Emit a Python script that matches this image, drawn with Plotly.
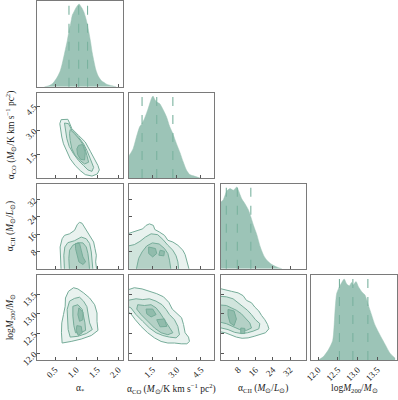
import plotly.graph_objects as go

# ---------------- data ----------------
# 1D marginal densities (relative)
astar_grid = [0.25,0.35,0.45,0.55,0.62,0.67,0.72,0.79,0.83,0.87,0.91,0.95,0.99,1.03,1.07,1.10,1.14,1.18,1.22,1.26,1.30,1.34,1.38,1.42,1.46,1.50,1.54,1.60,1.66,1.72,1.78,1.85,1.95]
astar_dens = [0.00,0.01,0.04,0.11,0.18,0.27,0.38,0.54,0.65,0.74,0.84,0.88,0.92,0.95,0.97,0.95,0.92,0.88,0.82,0.74,0.64,0.53,0.40,0.30,0.21,0.15,0.11,0.07,0.05,0.03,0.02,0.01,0.00]

aco_grid = [0.04,0.29,0.50,0.70,0.85,1.01,1.22,1.43,1.53,1.64,1.76,1.95,2.16,2.36,2.57,2.76,2.99,3.20,3.40,3.61,3.81,4.12,4.44]
aco_dens = [0.26,0.34,0.48,0.60,0.64,0.70,0.81,0.93,0.96,0.92,0.89,0.87,0.80,0.72,0.60,0.52,0.40,0.30,0.19,0.09,0.04,0.02,0.00]

acii_grid = [-0.1,1.12,2.68,4.23,5.77,7.33,8.1,9.65,11.2,12.75,13.84,15.08,16.63,18.18,19.73,21.28,23.6,25.93,28.26]
acii_dens = [0.78,0.81,0.91,0.94,0.92,0.96,0.92,0.82,0.76,0.69,0.61,0.51,0.40,0.26,0.16,0.10,0.05,0.02,0.00]

logm_grid = [12.01,12.135,12.26,12.37,12.43,12.47,12.54,12.60,12.66,12.725,12.79,12.85,12.89,12.96,13.02,13.105,13.19,13.26,13.36,13.44,13.57,13.70,13.82,13.95]
logm_dens = [0.00,0.04,0.12,0.23,0.59,0.78,0.86,0.91,0.95,0.89,0.87,0.91,0.88,0.92,0.86,0.80,0.76,0.66,0.52,0.41,0.29,0.18,0.08,0.02]

# 16th / 50th / 84th percentiles
q_astar = [0.83, 1.06, 1.27]
q_aco = [0.85, 1.76, 2.76]
q_acii = [2.5, 7.6, 13.85]
q_logm = [12.54, 12.88, 13.26]

# 2D credible-region outlines (x, y) per panel, outer -> inner
# alpha_CO vs alpha_*
outer21 = [(0.644,3.66),(0.803,3.68),(0.843,3.45),(0.898,3.10),(1.057,2.68),(1.216,2.27),(1.335,1.70),(1.414,1.29),(1.517,0.81),(1.549,0.54),(1.501,0.29),(1.375,0.16),(1.216,0.25),(1.097,0.50),(0.978,0.81),(0.859,1.23),(0.779,1.75),(0.700,2.16),(0.660,2.58),(0.628,3.0),(0.613,3.41)]
mid21 = [(0.724,3.45),(0.819,3.41),(0.898,3.0),(1.057,2.58),(1.176,2.16),(1.255,1.75),(1.335,1.23),(1.414,0.70),(1.375,0.45),(1.279,0.54),(1.176,0.81),(1.057,1.12),(0.938,1.54),(0.835,2.0),(0.779,2.48),(0.740,3.0)]
in21 = [(0.859,3.04),(0.962,2.79),(1.097,2.37),(1.2,1.95),(1.255,1.43),(1.295,1.02),(1.2,0.91),(1.097,1.12),(0.978,1.43),(0.898,1.85),(0.859,2.37),(0.843,2.79)]
core21 = [(1.057,2.06),(1.152,2.12),(1.216,1.64),(1.2,1.16),(1.104,1.20),(1.033,1.50),(1.017,1.85)]

# alpha_CII vs alpha_*
outer31 = [(0.644,-1),(0.628,6.2),(0.620,10.0),(0.668,13.8),(0.724,15.4),(0.843,16.1),(0.962,17.7),(1.03,20.5),(1.08,21.4),(1.14,21.0),(1.22,18.5),(1.28,16.9),(1.335,14.6),(1.414,12.3),(1.446,9.3),(1.478,6.2),(1.462,3.1),(1.49,-1)]
mid31 = [(0.724,-1),(0.708,6.2),(0.732,10.0),(0.803,12.0),(0.962,12.9),(1.120,14.6),(1.240,13.8),(1.319,11.6),(1.359,7.7),(1.382,3.9),(1.398,-1)]
in31 = [(0.843,-1),(0.827,4.7),(0.843,8.5),(0.922,10.8),(1.041,12.0),(1.160,11.9),(1.240,10.0),(1.279,7.0),(1.303,3.1),(1.319,-1)]
core31 = [(0.985,11.6),(1.081,11.6),(1.120,8.5),(1.160,5.4),(1.224,3.1),(1.160,1.9),(1.065,3.1),(1.017,6.2),(0.985,9.3)]

# alpha_CII vs alpha_CO
outer32 = [(-0.3,-1),(-0.3,15.4),(0.268,16.9),(0.58,17.7),(0.89,18.4),(1.10,20.0),(1.31,20.7),(1.55,20.0),(1.64,18.1),(1.93,16.9),(2.24,15.4),(2.45,13.1),(2.76,12.3),(3.07,10.8),(3.38,8.5),(3.52,6.5),(3.63,3.9),(3.79,-1)]
mid32 = [(-0.3,-1),(-0.3,10.0),(0.37,11.1),(0.72,12.6),(1.06,14.6),(1.41,16.1),(1.82,15.7),(2.14,13.5),(2.45,10.8),(2.76,8.5),(2.96,5.9),(3.07,3.1),(3.13,-1)]
in32 = [(0.476,-1),(0.64,4.7),(0.85,7.7),(1.14,10.5),(1.49,11.9),(1.91,11.4),(2.24,9.3),(2.45,7.0),(2.55,3.9),(2.65,-1)]
core32a = [(1.26,10.0),(1.68,9.3),(1.76,7.0),(1.51,5.4),(1.26,7.0)]
core32b = [(1.97,8.5),(2.24,8.0),(2.20,5.9),(1.89,6.2)]

# logM200 vs alpha_*
outer41 = [(0.938,13.66),(1.041,13.63),(1.176,13.53),(1.319,13.40),(1.438,13.23),(1.494,13.02),(1.494,12.81),(1.517,12.58),(1.359,12.45),(1.120,12.36),(0.882,12.30),(0.668,12.26),(0.652,12.52),(0.660,12.77),(0.700,12.98),(0.740,13.19),(0.747,13.40),(0.819,13.57)]
mid41 = [(0.843,13.32),(0.962,13.39),(1.081,13.42),(1.176,13.32),(1.255,13.18),(1.295,12.98),(1.319,12.77),(1.382,12.60),(1.240,12.50),(1.041,12.43),(0.859,12.41),(0.811,12.60),(0.803,12.85),(0.787,13.11)]
in41 = [(0.922,13.19),(1.041,13.23),(1.144,13.11),(1.176,12.94),(1.208,12.77),(1.224,12.58),(1.104,12.52),(0.985,12.52),(0.946,12.70),(0.922,12.94)]
core41a = [(1.065,13.15),(1.160,13.04),(1.160,12.85),(1.081,12.81),(1.041,12.98)]
core41b = [(1.017,12.70),(1.120,12.68),(1.144,12.52),(1.049,12.45),(1.001,12.58)]

# logM200 vs alpha_CO
outer42 = [(-0.3,13.57),(0.37,13.66),(0.85,13.63),(1.31,13.57),(1.76,13.51),(2.18,13.43),(2.51,13.29),(2.72,13.12),(3.01,13.0),(3.30,12.90),(3.42,12.73),(3.52,12.52),(3.73,12.41),(3.79,12.30),(3.63,12.24),(3.28,12.24),(2.86,12.26),(2.45,12.26),(2.03,12.30),(1.62,12.39),(1.20,12.52),(0.79,12.68),(0.43,12.85),(0.16,13.0),(-0.3,13.11)]
mid42 = [(-0.3,13.32),(0.476,13.38),(0.89,13.36),(1.31,13.38),(1.72,13.32),(2.09,13.23),(2.34,13.11),(2.55,12.98),(2.86,12.85),(3.07,12.68),(3.17,12.47),(2.96,12.39),(2.55,12.41),(2.14,12.45),(1.72,12.52),(1.31,12.64),(0.89,12.81),(0.476,12.98),(0.16,13.15),(-0.3,13.23)]
in42 = [(0.58,13.23),(1.0,13.21),(1.41,13.23),(1.72,13.15),(1.97,13.02),(2.24,12.85),(2.55,12.68),(2.76,12.52),(2.45,12.47),(2.03,12.52),(1.62,12.64),(1.20,12.81),(0.79,12.98),(0.52,13.12)]
core42a = [(1.10,13.12),(1.51,13.12),(1.72,12.98),(1.41,12.92),(1.14,13.0)]
core42b = [(1.76,12.85),(2.24,12.87),(2.38,12.68),(1.97,12.67)]

# logM200 vs alpha_CII
outer43 = [(-2,13.66),(1.74,13.60),(4.84,13.57),(7.95,13.53),(10.27,13.46),(11.82,13.34),(14.15,13.28),(15.70,13.17),(17.56,13.07),(18.8,12.96),(20.35,12.85),(21.59,12.73),(22.21,12.62),(20.66,12.52),(18.03,12.47),(15.39,12.43),(12.6,12.39),(9.81,12.38),(7.17,12.41),(4.54,12.47),(2.05,12.52),(-2,12.56)]
mid43 = [(-2,13.45),(2.52,13.43),(5.62,13.38),(7.95,13.28),(10.27,13.19),(12.29,13.09),(14.15,12.98),(16.01,12.85),(18.03,12.75),(17.56,12.62),(14.92,12.56),(12.29,12.52),(9.5,12.50),(6.4,12.53),(3.3,12.60),(-2,12.67)]
in43 = [(-2,13.23),(2.52,13.21),(4.84,13.15),(7.17,13.09),(9.5,13.0),(11.36,12.90),(13.37,12.77),(14.15,12.64),(11.82,12.58),(8.72,12.60),(5.62,12.67),(2.52,12.75),(-2,12.81)]
core43a = [(3.3,13.11),(6.09,13.07),(7.17,12.87),(6.09,12.70),(4.23,12.77),(3.3,12.96)]
core43b = [(9.19,12.64),(11.05,12.63),(11.05,12.50),(9.19,12.50)]

# axes
axis_ranges = [[0.08, 2.1], [0.04, 5.33], [-0.1, 39.4], [11.83, 13.99]]
tick_vals = [[0.5, 1.0, 1.5, 2.0], [1.5, 3.0, 4.5], [8, 16, 24, 32], [12.0, 12.5, 13.0, 13.5]]
tick_text = [["0.5", "1.0", "1.5", "2.0"], ["1.5", "3.0", "4.5"], ["8", "16", "24", "32"], ["12.0", "12.5", "13.0", "13.5"]]
labels = [
    "α<sub>*</sub>",
    "α<sub>CO</sub> (<i>M</i><sub>⊙</sub>/K km s<sup>−1</sup> pc<sup>2</sup>)",
    "α<sub>CII</sub> (<i>M</i><sub>⊙</sub>/<i>L</i><sub>⊙</sub>)",
    "log<i>M</i><sub>200</sub>/<i>M</i><sub>⊙</sub>",
]

# ---------------- styling ----------------
W, H = 398, 400
col_left = [37.3, 129.0, 220.7, 311.4]
row_top = [1.4, 92.7, 183.5, 274.7]
PS = 85.3
FONT = "Liberation Serif"
hist_color = "rgb(156,196,183)"
qline_color = "rgb(122,178,159)"
fills = ["rgb(233,242,239)", "rgb(208,228,220)", "rgb(180,209,198)", "rgb(145,188,172)"]
cline = "rgb(118,172,153)"
frame_color = "#7a7a7a"

hists = [(astar_grid, astar_dens, q_astar), (aco_grid, aco_dens, q_aco),
         (acii_grid, acii_dens, q_acii), (logm_grid, logm_dens, q_logm)]
contours = {
    (1, 0): [[outer21], [mid21], [in21], [core21]],
    (2, 0): [[outer31], [mid31], [in31], [core31]],
    (2, 1): [[outer32], [mid32], [in32], [core32a, core32b]],
    (3, 0): [[outer41], [mid41], [in41], [core41a, core41b]],
    (3, 1): [[outer42], [mid42], [in42], [core42a, core42b]],
    (3, 2): [[outer43], [mid43], [in43], [core43a, core43b]],
}

fig = go.Figure()
layout = {}
shapes = []
k = 0
for r in range(4):
    for c in range(r + 1):
        k += 1
        xa = "x" if k == 1 else f"x{k}"
        ya = "y" if k == 1 else f"y{k}"
        xname = "xaxis" if k == 1 else f"xaxis{k}"
        yname = "yaxis" if k == 1 else f"yaxis{k}"
        x0 = col_left[c] / W
        x1 = (col_left[c] + PS) / W
        y1 = (H - row_top[r]) / H
        y0 = (H - row_top[r] - PS) / H
        common = dict(showline=True, mirror=True, linecolor=frame_color, linewidth=1.3,
                      ticks="inside", ticklen=3, tickwidth=1, tickcolor="#555",
                      showgrid=False, zeroline=False, fixedrange=True,
                      tickfont=dict(family=FONT, size=9, color="#222"))
        layout[xname] = dict(common, domain=[x0, x1], anchor=ya, range=axis_ranges[c],
                             tickvals=tick_vals[c], ticktext=tick_text[c],
                             showticklabels=(r == 3), tickangle=-45)
        if r == c:
            gx, gd, qs = hists[c]
            fig.add_trace(go.Scatter(x=gx, y=gd, mode="lines", fill="tozeroy",
                                     fillcolor=hist_color,
                                     line=dict(color=hist_color, width=0.5, shape="spline", smoothing=0.6),
                                     xaxis=xa, yaxis=ya, hoverinfo="skip"))
            for q in qs:
                shapes.append(dict(type="line", xref=xa, yref=f"{ya} domain", x0=q, x1=q, y0=0, y1=1,
                                   line=dict(color=qline_color, width=1.1, dash="dash")))
            layout[yname] = dict(common, domain=[y0, y1], anchor=xa, range=[0, 1.0],
                                 showticklabels=False, ticks="")
        else:
            for lev, polys in enumerate(contours[(r, c)]):
                for poly in polys:
                    px = [p[0] for p in poly] + [poly[0][0]]
                    py = [p[1] for p in poly] + [poly[0][1]]
                    fig.add_trace(go.Scatter(x=px, y=py, mode="lines", fill="toself",
                                             fillcolor=fills[lev],
                                             line=dict(color=cline, width=1),
                                             xaxis=xa, yaxis=ya, hoverinfo="skip"))
            layout[yname] = dict(common, domain=[y0, y1], anchor=xa, range=axis_ranges[r],
                                 tickvals=tick_vals[r], ticktext=tick_text[r],
                                 showticklabels=(c == 0), tickangle=-45)

annotations = []
for c in range(4):
    annotations.append(dict(text=labels[c], xref="paper", yref="paper",
                            x=(col_left[c] + PS / 2) / W, y=(H - 388) / H,
                            showarrow=False, xanchor="center", yanchor="middle",
                            font=dict(family=FONT, size=9.5, color="#222")))
for r in range(1, 4):
    annotations.append(dict(text=labels[r], xref="paper", yref="paper",
                            x=10 / W, y=(H - row_top[r] - PS / 2) / H, textangle=-90,
                            showarrow=False, xanchor="center", yanchor="middle",
                            font=dict(family=FONT, size=9.5, color="#222")))

fig.update_layout(**layout)
fig.update_layout(width=W, height=H, margin=dict(l=0, r=0, t=0, b=0, autoexpand=False),
                  paper_bgcolor="white", plot_bgcolor="white", showlegend=False,
                  shapes=shapes, annotations=annotations)
fig.write_html("out.html", config={"displayModeBar": False},
               post_script="document.body.style.margin='0';document.body.style.padding='0';document.body.style.overflow='hidden';")
